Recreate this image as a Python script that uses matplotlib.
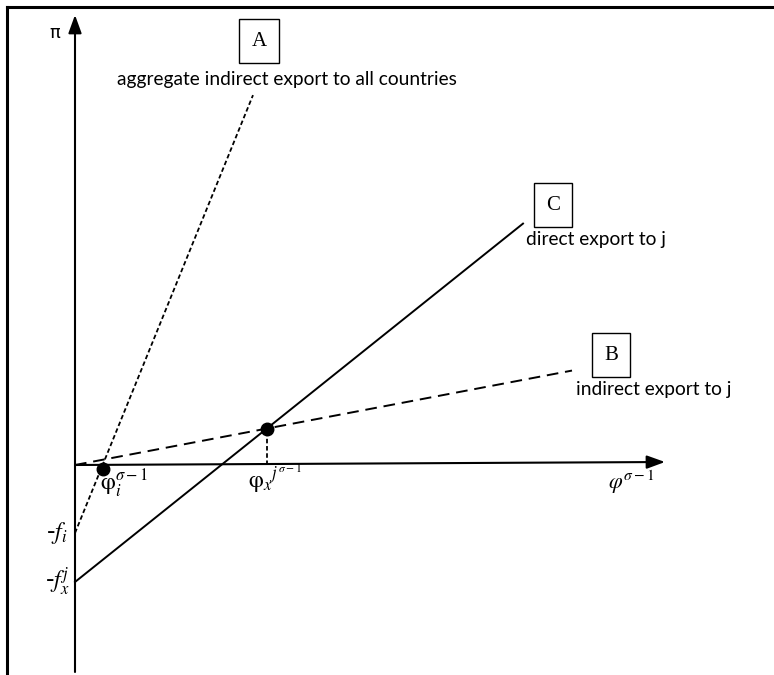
import numpy as np
import matplotlib.pyplot as plt

plt.rcParams['mathtext.fontset'] = 'stix'

# fixed costs (intercepts below the horizontal axis)
f_i = 0.68
f_x = 1.17

# profit-line slopes for each export mode
slope_A = 2.46   # aggregate indirect export to all countries
slope_B = 0.19   # indirect export to j
slope_C = 0.80   # direct export to j

# how far each line is drawn along phi^(sigma-1)
x_end_A = 1.78
x_end_B = 4.97
x_end_C = 4.48

fig = plt.figure(figsize=(7.74, 6.75), dpi=100)
ax = fig.add_axes([0, 0, 1, 1])
ax.set_xlim(-0.75, 6.99)
ax.set_ylim(-2.10, 4.65)
ax.axis('off')

# outer frame (left and top edges)
ax.plot([0.009, 0.009], [0.0, 0.99], transform=ax.transAxes, color='black', lw=2.2)
ax.plot([0.009, 1.0], [0.99, 0.99], transform=ax.transAxes, color='black', lw=2.2)

# axes with arrow heads
arrow = dict(arrowstyle='-|>,head_length=0.55,head_width=0.2', mutation_scale=20,
             color='black', lw=1.5, shrinkA=0, shrinkB=0)
ax.annotate('', xy=(0, 4.50), xytext=(0, -2.07), arrowprops=arrow)
ax.annotate('', xy=(5.90, 0.03), xytext=(0, 0), arrowprops=arrow)

# profit lines
xa = np.array([0, x_end_A])
ax.plot(xa, -f_i + slope_A * xa, color='black', lw=1.3, linestyle=(0, (2.5, 1.5)))
xb = np.array([0, x_end_B])
ax.plot(xb, slope_B * xb, color='black', lw=1.4, linestyle=(0, (6, 3.5)))
xc = np.array([0, x_end_C])
ax.plot(xc, -f_x + slope_C * xc, color='black', lw=1.4)

# cutoff for indirect export (A crosses zero profit)
phi_i = f_i / slope_A
ax.plot(phi_i, -0.04, 'o', color='black', ms=9)

# cutoff where direct export beats indirect export to j
phi_x = f_x / (slope_C - slope_B)
pi_x = slope_B * phi_x
ax.plot(phi_x, pi_x, 'o', color='black', ms=9)
ax.plot([phi_x, phi_x], [0, pi_x], color='black', lw=1.3, linestyle=(0, (2.5, 1.5)))

# axis and intercept labels
ax.text(-0.20, 4.32, 'π', fontsize=13, family='DejaVu Sans', ha='center', va='center')
ax.text(5.56, -0.17, r'$\varphi^{\sigma-1}$', fontsize=16, ha='center', va='center')
ax.text(phi_i - 0.03, -0.19, r'$\mathrm{\varphi}_i^{\sigma-1}$', fontsize=17, ha='left', va='center')
ax.text(phi_x - 0.19, -0.14, r'$\mathrm{\varphi}_x{}^{j^{\sigma-1}}$', fontsize=17, ha='left', va='center')
ax.text(-0.08, -f_i, r'-$f_i$', fontsize=17, ha='right', va='center')
ax.text(-0.05, -f_x, r'-$f_x^j$', fontsize=17, ha='right', va='center')

# boxed line tags with descriptions
box = dict(boxstyle='square,pad=0.6', fc='white', ec='black', lw=1.0)
ax.text(1.84, 4.24, 'A', fontsize=15, family='Liberation Serif', ha='center', va='center', bbox=box)
ax.text(4.78, 2.60, 'C', fontsize=15, family='Liberation Serif', ha='center', va='center', bbox=box)
ax.text(5.36, 1.10, 'B', fontsize=15, family='Liberation Serif', ha='center', va='center', bbox=box)

ax.text(0.42, 3.85, 'aggregate indirect export to all countries', fontsize=13.8, family='Lato',
        ha='left', va='center')
ax.text(4.51, 2.26, 'direct export to j', fontsize=13.8, family='Lato', ha='left', va='center')
ax.text(5.01, 0.75, 'indirect export to j', fontsize=13.8, family='Lato', ha='left', va='center')

fig.savefig('out.png', dpi=100)
